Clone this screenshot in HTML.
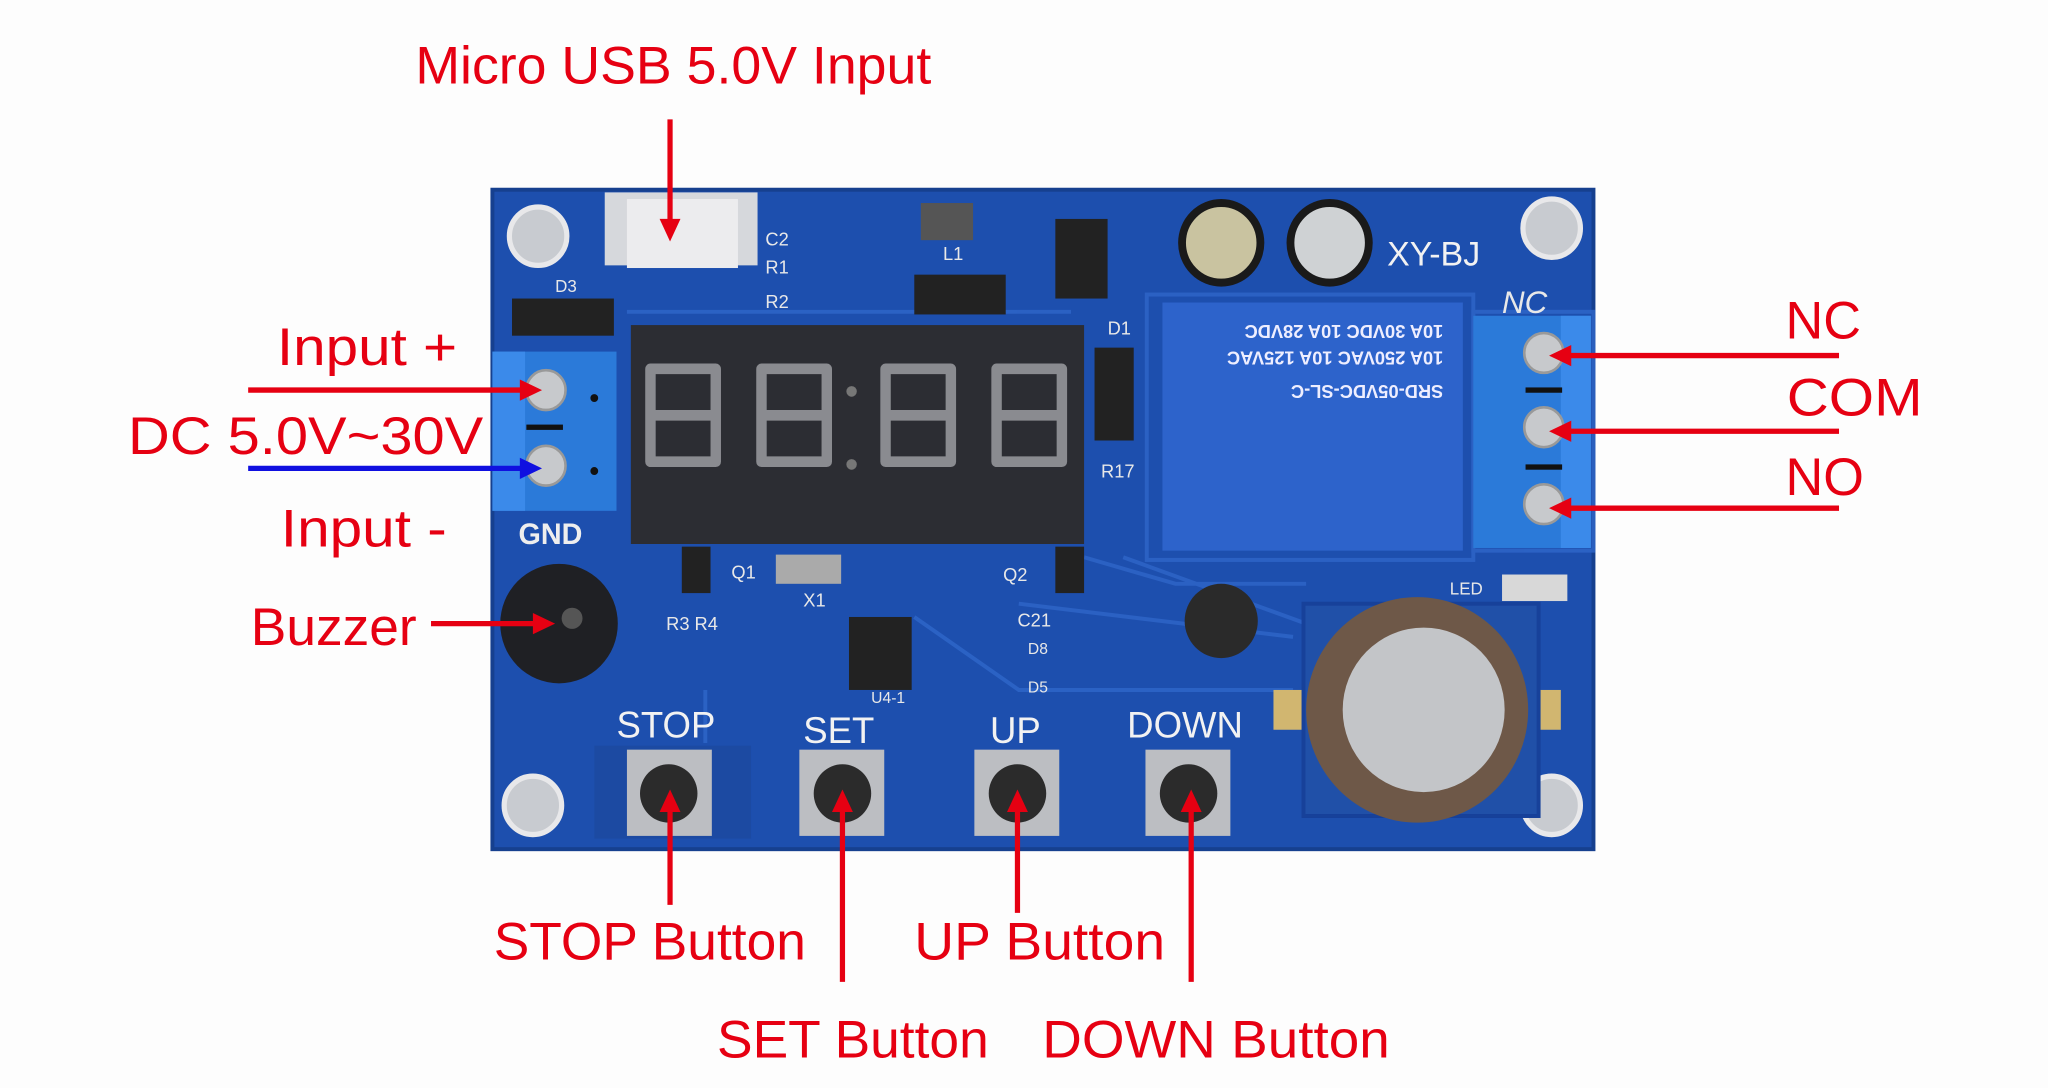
<!DOCTYPE html>
<html><head><meta charset="utf-8"><style>
html,body{margin:0;padding:0;background:#fff;}
svg{display:block;}
text{font-family:"Liberation Sans","DejaVu Sans",sans-serif;}
</style></head><body>
<svg width="2048" height="1088" viewBox="0 0 1568 820" preserveAspectRatio="none" xmlns="http://www.w3.org/2000/svg">
<rect width="1568" height="820" fill="#fdfdfd"/>
<rect x="377" y="143" width="843" height="497" fill="#1d4fae"/>
<rect x="377" y="143" width="843" height="497" fill="none" stroke="#16408f" stroke-width="3"/>
<g stroke="#2f66c9" stroke-width="3" fill="none" opacity="0.8">
<path d="M480 235 L820 235 M830 420 L900 440 L1000 440 M860 420 L1000 470 M700 465 L780 520 L990 520 M540 520 L540 560 M780 455 L990 480"/>
<rect x="1128" y="235" width="92" height="180"/>
<rect x="878" y="222" width="250" height="200"/>
</g>
<g fill="#c8cbd0" stroke="#e8e8ea" stroke-width="4">
<circle cx="412" cy="178" r="22"/><circle cx="1188" cy="172" r="22"/>
<circle cx="408" cy="607" r="22"/><circle cx="1188" cy="607" r="22"/>
</g>
<rect x="463" y="145" width="117" height="55" fill="#d6d8dc"/>
<rect x="480" y="150" width="85" height="52" fill="#ececee"/>
<g fill="#222">
<rect x="392" y="225" width="78" height="28"/>
<rect x="700" y="207" width="70" height="30"/>
<rect x="808" y="165" width="40" height="60"/>
<rect x="838" y="262" width="30" height="70"/>
<rect x="650" y="465" width="48" height="55"/>
<rect x="522" y="412" width="22" height="35"/>
<rect x="808" y="412" width="22" height="35"/>
</g>
<rect x="705" y="153" width="40" height="28" fill="#555"/>
<rect x="594" y="418" width="50" height="22" fill="#aaa"/>
<g fill="#e8e8e8"><text x="425" y="220" font-size="13">D3</text><text x="586" y="185" font-size="14">C2</text><text x="586" y="206" font-size="14">R1</text><text x="586" y="232" font-size="14">R2</text><text x="722" y="196" font-size="14">L1</text><text x="848" y="252" font-size="14">D1</text><text x="843" y="360" font-size="14">R17</text><text x="560" y="436" font-size="14">Q1</text><text x="768" y="438" font-size="14">Q2</text><text x="615" y="457" font-size="14">X1</text><text x="510" y="475" font-size="14">R3 R4</text><text x="779" y="472" font-size="14">C21</text><text x="787" y="493" font-size="12">D8</text><text x="787" y="522" font-size="12">D5</text><text x="667" y="530" font-size="12">U4-1</text><text x="1110" y="448" font-size="13">LED</text><text x="1150" y="236" font-size="24" font-style="italic">NC</text></g>
<text x="1062" y="200" font-size="26" fill="#f2f2f2">XY-BJ</text>
<circle cx="935" cy="183" r="30" fill="#c9c3a0" stroke="#1a1a1a" stroke-width="6"/>
<circle cx="1018" cy="183" r="30" fill="#cfd2d4" stroke="#1a1a1a" stroke-width="6"/>
<circle cx="935" cy="468" r="28" fill="#2a2a2a"/>
<rect x="483" y="245" width="347" height="165" fill="#2c2d33"/>
<g fill="none" stroke="#8a8b90" stroke-width="8" stroke-linejoin="round">
<path d="M498 278 h50 v35 h-50 z M498 313 v35 h50 v-35"/>
<path d="M583 278 h50 v35 h-50 z M583 313 v35 h50 v-35"/>
<path d="M678 278 h50 v35 h-50 z M678 313 v35 h50 v-35"/>
<path d="M763 278 h50 v35 h-50 z M763 313 v35 h50 v-35"/>
</g>
<circle cx="652" cy="295" r="4" fill="#777"/><circle cx="652" cy="350" r="4" fill="#777"/>
<rect x="377" y="265" width="95" height="120" fill="#2b7ad9"/>
<rect x="377" y="265" width="25" height="120" fill="#3b8aea"/>
<g fill="#c7c9cc" stroke="#999" stroke-width="2"><circle cx="418" cy="294" r="15"/><circle cx="418" cy="351" r="15"/></g>
<rect x="403" y="320" width="28" height="4" fill="#111"/>
<circle cx="455" cy="300" r="3" fill="#111"/><circle cx="455" cy="355" r="3" fill="#111"/>
<text x="397" y="410" font-size="22" font-weight="bold" fill="#eee">GND</text>
<circle cx="428" cy="470" r="45" fill="#1f2024"/>
<circle cx="438" cy="466" r="8" fill="#555"/>
<rect x="890" y="228" width="230" height="187" fill="#2d63cb"/>
<g fill="#eef" font-size="14" font-weight="bold" transform="rotate(180 1005 280)">
<text x="905" y="270">SRD-05VDC-SL-C</text><text x="905" y="295">10A 250VAC 10A 125VAC</text><text x="905" y="315">10A 30VDC 10A 28VDC</text></g>
<rect x="1128" y="238" width="90" height="175" fill="#2b7ad9"/>
<rect x="1195" y="238" width="23" height="175" fill="#3b8aea"/>
<g fill="#c7c9cc" stroke="#999" stroke-width="2"><circle cx="1182" cy="266" r="15"/><circle cx="1182" cy="322" r="15"/><circle cx="1182" cy="380" r="15"/></g>
<rect x="1168" y="292" width="28" height="4" fill="#111"/><rect x="1168" y="350" width="28" height="4" fill="#111"/>
<rect x="1150" y="433" width="50" height="20" fill="#d8d8d8"/>
<rect x="975" y="520" width="220" height="30" fill="#d1b670"/>
<rect x="998" y="455" width="180" height="160" fill="#2050a8" stroke="#17419a" stroke-width="3"/>
<circle cx="1085" cy="535" r="85" fill="#6e5848"/>
<circle cx="1090" cy="535" r="62" fill="#c3c5c8"/>
<rect x="455" y="562" width="120" height="70" fill="#1c4aa2"/>
<rect x="480" y="565" width="65" height="65" fill="#bcbec2"/><circle cx="512" cy="598" r="22" fill="#2b2b2b"/>
<rect x="612" y="565" width="65" height="65" fill="#bcbec2"/><circle cx="645" cy="598" r="22" fill="#2b2b2b"/>
<rect x="746" y="565" width="65" height="65" fill="#bcbec2"/><circle cx="779" cy="598" r="22" fill="#2b2b2b"/>
<rect x="877" y="565" width="65" height="65" fill="#bcbec2"/><circle cx="910" cy="598" r="22" fill="#2b2b2b"/>
<g fill="#f2f2f2" font-size="28"><text x="472" y="556">STOP</text><text x="615" y="560">SET</text><text x="758" y="560">UP</text><text x="863" y="556">DOWN</text></g>
<g stroke="#e60012" stroke-width="4" fill="none">
<line x1="513" y1="90" x2="513" y2="168"/>
<line x1="190" y1="294" x2="400" y2="294"/>
<line x1="330" y1="470" x2="410" y2="470"/>
<line x1="1408" y1="268" x2="1200" y2="268"/>
<line x1="1408" y1="325" x2="1200" y2="325"/>
<line x1="1408" y1="383" x2="1200" y2="383"/>
<line x1="513" y1="682" x2="513" y2="608"/>
<line x1="645" y1="740" x2="645" y2="608"/>
<line x1="779" y1="688" x2="779" y2="608"/>
<line x1="912" y1="740" x2="912" y2="608"/>
</g>
<line x1="190" y1="353" x2="400" y2="353" stroke="#1010e0" stroke-width="4"/>
<g fill="#e60012">
<polygon points="505,165 521,165 513,182"/>
<polygon points="398,286 398,302 415,294"/>
<polygon points="408,462 408,478 425,470"/>
<polygon points="1203,260 1203,276 1186,268"/>
<polygon points="1203,317 1203,333 1186,325"/>
<polygon points="1203,375 1203,391 1186,383"/>
<polygon points="505,612 521,612 513,595"/>
<polygon points="637,612 653,612 645,595"/>
<polygon points="771,612 787,612 779,595"/>
<polygon points="904,612 920,612 912,595"/>
</g>
<polygon points="398,345 398,361 415,353" fill="#1010e0"/>
<g fill="#e60012" font-size="40">
<text x="318" y="63" textLength="395" lengthAdjust="spacingAndGlyphs">Micro USB 5.0V Input</text>
<text x="212" y="275" textLength="138" lengthAdjust="spacingAndGlyphs">Input +</text>
<text x="98" y="342" textLength="272" lengthAdjust="spacingAndGlyphs">DC 5.0V~30V</text>
<text x="215" y="412" textLength="127" lengthAdjust="spacingAndGlyphs">Input -</text>
<text x="192" y="486" textLength="127" lengthAdjust="spacingAndGlyphs">Buzzer</text>
<text x="1367" y="255">NC</text>
<text x="1368" y="313" textLength="104" lengthAdjust="spacingAndGlyphs">COM</text>
<text x="1367" y="373">NO</text>
<text x="378" y="723" textLength="239" lengthAdjust="spacingAndGlyphs">STOP Button</text>
<text x="700" y="723" textLength="192" lengthAdjust="spacingAndGlyphs">UP Button</text>
<text x="549" y="797" textLength="208" lengthAdjust="spacingAndGlyphs">SET Button</text>
<text x="798" y="797" textLength="266" lengthAdjust="spacingAndGlyphs">DOWN Button</text>
</g>
</svg>
</body></html>
